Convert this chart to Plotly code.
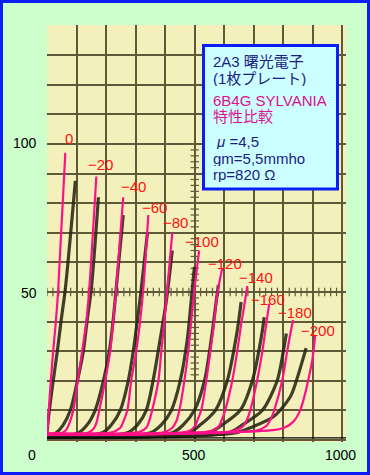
import plotly.graph_objects as go

# ---------------- data ----------------
grid_volts = [0, -20, -40, -60, -80, -100, -120, -140, -160, -180, -200]

# 6B4G SYLVANIA (pink) : plate voltage [V] and plate current [mA]
sylvania_v = [
    [0, 3, 6, 13, 21, 30, 38, 62],
    [0, 52, 65, 75, 89, 104, 119, 133, 143, 167],
    [0, 140, 157, 167, 177, 197, 214, 224, 234, 258],
    [0, 224, 248, 258, 272, 285, 302, 315, 326, 343],
    [0, 312, 336, 346, 356, 377, 387, 397, 407, 424],
    [0, 400, 424, 438, 448, 465, 478, 488, 499, 515],
    [0, 478, 499, 512, 522, 539, 553, 566, 576, 593],
    [0, 553, 580, 593, 603, 627, 644, 657, 668, 678],
    [0, 630, 661, 678, 688, 711, 729, 739, 752],
    [0, 708, 742, 759, 769, 796, 813, 823, 833],
    [0, 756, 803, 833, 857, 877, 888, 898, 908],
]
sylvania_ma = [
    [2.0, 5, 10, 20, 30, 40, 51, 97],
    [1.6, 2.4, 3.4, 5.4, 10, 20, 30, 40, 51, 89],
    [1.8, 2.5, 3.7, 5.7, 10, 20, 30, 40, 51, 82],
    [2.0, 2.7, 4.1, 6.1, 10, 20, 30, 40, 51, 76],
    [2.2, 2.7, 4.1, 6.4, 10, 20, 30, 40, 51, 70],
    [2.0, 2.7, 4.1, 6.4, 10, 20, 30, 40, 51, 64],
    [1.8, 2.9, 4.4, 7.4, 10, 20, 30, 40, 49, 58],
    [2.2, 3.0, 4.4, 7.1, 10, 20, 30, 39, 45.6, 52],
    [2.0, 3.0, 4.4, 7.1, 10, 20, 30, 37, 46],
    [1.9, 3.2, 4.7, 7.4, 10, 20, 30, 35.5, 40.5],
    [1.8, 3.2, 4.1, 6.1, 10, 17, 22, 27, 35.5],
]

# 2A3 曙光電子 (black)
shoko_v = [
    [0, 1, 8, 21, 35, 48, 62, 96],
    [0, 31, 55, 79, 103, 123, 136, 150, 174],
    [0, 106, 136, 163, 191, 211, 224, 234, 258],
    [0, 187, 218, 248, 275, 292, 306, 319, 340],
    [0, 272, 306, 336, 359, 383, 404, 424],
    [0, 350, 387, 421, 451, 475, 488, 499],
    [0, 424, 461, 499, 533, 556, 573, 580],
    [0, 478, 519, 570, 610, 644, 657],
    [0, 546, 593, 654, 695, 729, 735],
    [0, 614, 661, 729, 779, 800, 810],
    [0, 637, 695, 766, 823, 844, 877],
]
shoko_ma = [
    [1, 3.4, 10, 20, 30, 40.5, 51, 87.5],
    [1, 2.4, 5.1, 10, 20, 30, 40.5, 51, 82],
    [1, 2.4, 5.1, 10, 20, 30, 40.5, 51, 76],
    [1, 2.4, 5.1, 10, 20, 30, 40.5, 51, 70],
    [1, 2.4, 5.1, 10, 20, 34, 47, 64],
    [1, 2.4, 5.1, 10, 20, 34, 47, 58.5],
    [1, 2.4, 5.1, 10, 20, 34, 47, 52.4],
    [1, 2.4, 5.1, 10, 20, 37, 46.6],
    [1, 2.4, 5.1, 10, 20, 37, 41.5],
    [1, 2.4, 5.1, 10, 20, 30, 36],
    [1, 2.4, 4.4, 7.8, 14.5, 20, 31],
]

x_tick_labels = ["0", "500", "1000"]
y_tick_labels = ["100", "50"]

info_lines_2a3 = ["2A3 曙光電子", "(1枚プレート)"]
info_lines_6b4g = ["6B4G SYLVANIA", "特性比較"]
info_lines_params = ["<i>μ</i> =4,5", "gm=5,5mmho", "rp=820 Ω"]

# ---------------- styling ----------------
W, H = 370, 475
L, R, T, B = 47, 24, 25, 33
PW, PH = W - L - R, H - T - B

def pxx(px):
    return (px - L) / PW

def pxy(py):
    return (H - B - py) / PH

FONT = "Liberation Sans, Arial, Noto Sans CJK JP, sans-serif"
PINK = "#FF1088"
DARK = "rgba(38,38,18,0.88)"
GRID = "#5E5A38"
BLUE = "#0A1EF5"

fig = go.Figure()

# decorative tick marks on the 50 mA line and the 500 V line
fig.add_trace(go.Scatter(
    x=list(range(0, 1001, 20)), y=[50] * 51, mode="markers", hoverinfo="skip",
    marker=dict(symbol="line-ns", size=6, line=dict(width=1.2, color=GRID)),
    showlegend=False))
fig.add_trace(go.Scatter(
    x=[500] * 41, y=list(range(20, 101, 2)), mode="markers", hoverinfo="skip",
    marker=dict(symbol="line-ew", size=6, line=dict(width=1.2, color=GRID)),
    showlegend=False))

for v, ma in zip(shoko_v, shoko_ma):
    fig.add_trace(go.Scatter(x=v, y=ma, mode="lines",
                             line=dict(color=DARK, width=3.2, shape="spline", smoothing=0.8),
                             showlegend=False, hoverinfo="skip"))

for v, ma in zip(sylvania_v, sylvania_ma):
    fig.add_trace(go.Scatter(x=v, y=ma, mode="lines",
                             line=dict(color=PINK, width=2.2, shape="spline", smoothing=0.8),
                             showlegend=False, hoverinfo="skip"))

annotations = []
# curve labels placed just above the top of each pink curve
label_shift = [(3.5, 15), (4.5, 13), (10, 11), (6, 8), (3, 11), (2.5, 10),
               (2.5, 5), (8.5, 9), (-1, 5), (1.5, 8), (3, 5)]
for g, v, ma, (dx, dy) in zip(grid_volts, sylvania_v, sylvania_ma, label_shift):
    txt = "0" if g == 0 else "\u2212" + str(abs(g))
    annotations.append(dict(x=v[-1], y=ma[-1], xref="x", yref="y", text=txt,
                            showarrow=False, xshift=dx, yshift=dy, height=14,
                            font=dict(family=FONT, size=15, color="#FF1010")))

# axis labels (as positioned in the picture)
for txt, cx in zip(x_tick_labels, [31.5, 193.5, 340]):
    annotations.append(dict(x=pxx(cx), y=pxy(455), xref="paper", yref="paper",
                            text=txt, showarrow=False, xanchor="center", yanchor="middle",
                            font=dict(family=FONT, size=14, color="#000000")))
for txt, cy in zip(y_tick_labels, [143, 293]):
    annotations.append(dict(x=pxx(39), y=pxy(cy), xref="paper", yref="paper",
                            text=txt, showarrow=False, xanchor="right", yanchor="middle",
                            font=dict(family=FONT, size=14, color="#000000")))

# info box text
NAVY = "#1C1C84"
MAG = "#DD1090"
for txt, cy in zip(info_lines_2a3, [61, 78]):
    annotations.append(dict(x=pxx(211), y=pxy(cy), xref="paper", yref="paper", text=txt,
                            showarrow=False, xanchor="left", yanchor="middle", height=15,
                            font=dict(family=FONT, size=15, color=NAVY)))
for txt, cy in zip(info_lines_6b4g, [101, 117]):
    annotations.append(dict(x=pxx(211), y=pxy(cy), xref="paper", yref="paper", text=txt,
                            showarrow=False, xanchor="left", yanchor="middle", height=15,
                            font=dict(family=FONT, size=15, color=MAG)))
for txt, cy, lx in zip(info_lines_params, [141.5, 158, 174.5], [214, 211, 211]):
    annotations.append(dict(x=pxx(lx), y=pxy(cy), xref="paper", yref="paper", text=txt,
                            showarrow=False, xanchor="left", yanchor="middle", height=15,
                            font=dict(family=FONT, size=15, color=NAVY)))

shapes = [
    # black baseline axis
    dict(type="line", xref="paper", yref="y", x0=0, x1=1, y0=0.68, y1=0.68,
         line=dict(color="#000000", width=1.2), layer="above"),
    # info box
    dict(type="rect", xref="paper", yref="paper",
         x0=pxx(203.5), x1=pxx(337.5), y0=pxy(189), y1=pxy(45.5),
         fillcolor="#CCFFFF", line=dict(color=BLUE, width=3), layer="above"),
    # outer frame
    dict(type="rect", xref="paper", yref="paper",
         x0=pxx(1.5), x1=pxx(W - 1.5), y0=pxy(H - 1.5), y1=pxy(1.5),
         line=dict(color=BLUE, width=3), layer="above"),
]

fig.update_layout(
    width=W, height=H,
    margin=dict(l=L, r=R, t=T, b=B, pad=0),
    paper_bgcolor="#CCFFCC",
    plot_bgcolor="#F4F0BC",
    showlegend=False,
    xaxis=dict(range=[0, 1012], tick0=0, dtick=100, showgrid=True, gridcolor=GRID,
               gridwidth=1.5, zeroline=False, showticklabels=False, ticks="",
               showline=False, fixedrange=True),
    yaxis=dict(range=[-0.7, 140.2], tick0=0, dtick=10, showgrid=True, gridcolor=GRID,
               gridwidth=1.5, zeroline=False, showticklabels=False, ticks="",
               showline=False, fixedrange=True),
    annotations=annotations,
    shapes=shapes,
    font=dict(family=FONT),
)

fig.write_html("out.html", config={"displayModeBar": False},
               post_script="document.body.style.margin='0px';document.body.style.overflow='hidden';")
